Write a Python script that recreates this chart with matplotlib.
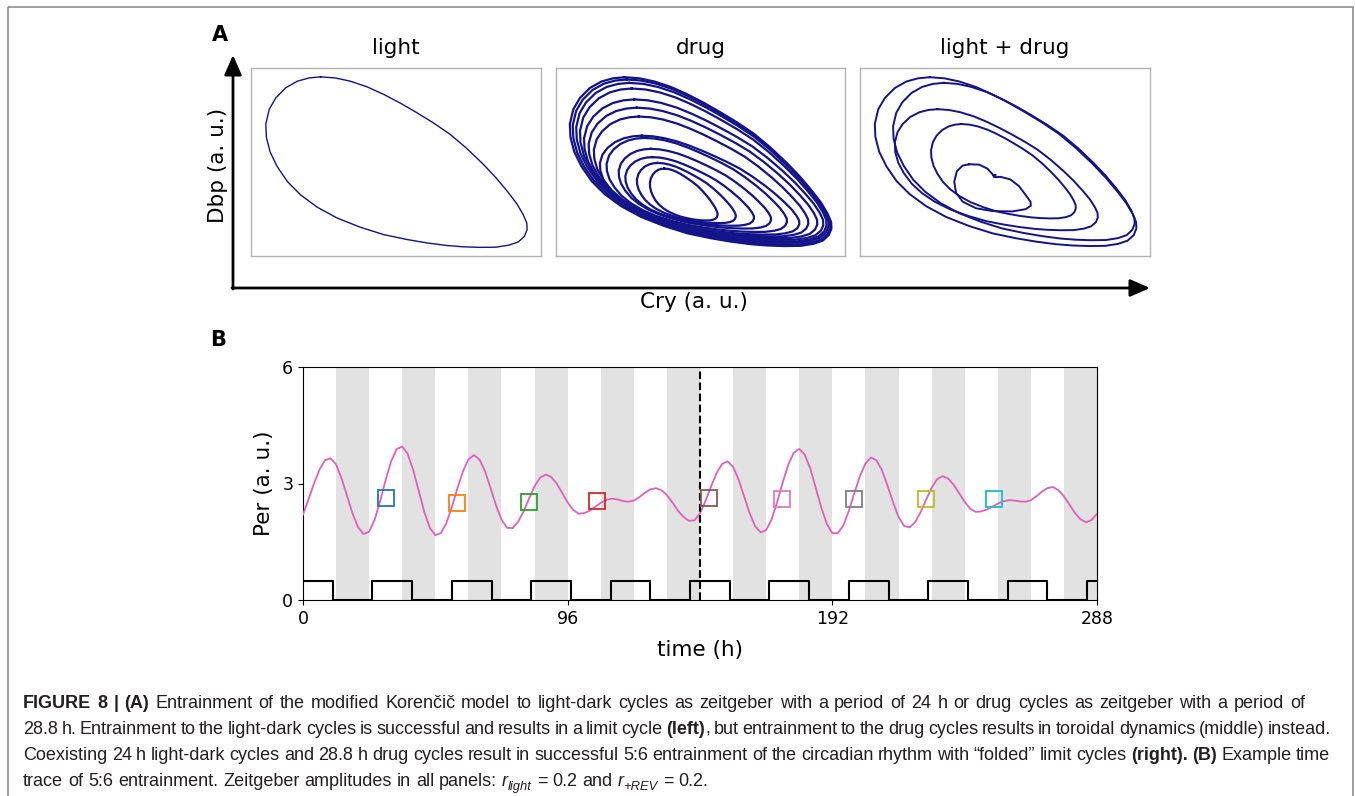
import numpy as np
import matplotlib
matplotlib.use("Agg")
import matplotlib.pyplot as plt
from matplotlib.patches import Rectangle

W, H = 1356, 796

# ---- panel A: phase portraits (Cry vs Dbp, normalised a.u.) ----
# light-entrained limit cycle
light_cry = [0.240, 0.291, 0.342, 0.400, 0.457, 0.514, 0.571, 0.628, 0.685, 0.742,
             0.799, 0.845, 0.885, 0.917, 0.939, 0.951, 0.952, 0.943, 0.922, 0.890,
             0.845, 0.788, 0.731, 0.674, 0.605, 0.537, 0.457, 0.377, 0.297, 0.228,
             0.171, 0.126, 0.091, 0.066, 0.053, 0.051, 0.063, 0.086, 0.120, 0.160,
             0.200, 0.240]
light_dbp = [0.953, 0.947, 0.930, 0.900, 0.860, 0.814, 0.763, 0.709, 0.649, 0.575,
             0.491, 0.416, 0.342, 0.277, 0.219, 0.175, 0.140, 0.105, 0.075, 0.058,
             0.047, 0.046, 0.049, 0.056, 0.070, 0.088, 0.114, 0.153, 0.202, 0.260,
             0.325, 0.395, 0.474, 0.553, 0.632, 0.702, 0.781, 0.842, 0.895, 0.930,
             0.947, 0.953]

# drug only: extents of the nested torus loops (outer -> inner)
drug_left = [0.048, 0.058, 0.070, 0.083, 0.097, 0.113, 0.131, 0.152, 0.175, 0.217, 0.240, 0.280, 0.325]
drug_right = [0.953, 0.949, 0.943, 0.936, 0.925, 0.904, 0.873, 0.842, 0.799, 0.744, 0.685, 0.622, 0.559]
drug_top = [0.951, 0.939, 0.921, 0.891, 0.833, 0.789, 0.742, 0.640, 0.628, 0.570, 0.526, 0.495, 0.465]
drug_bottom = [0.053, 0.061, 0.070, 0.077, 0.086, 0.095, 0.104, 0.114, 0.128, 0.146, 0.161, 0.175, 0.189]

# light + drug: folded cycle, four outer folds + inner fold with a kink
ld_left = [0.051, 0.114, 0.120, 0.245]
ld_right = [0.953, 0.947, 0.820, 0.744]
ld_top = [0.951, 0.921, 0.781, 0.702]
ld_bottom = [0.053, 0.084, 0.137, 0.200]
ld_inner_cry = [0.377, 0.411, 0.439, 0.457, 0.463, 0.468, 0.460, 0.465, 0.485, 0.519,
                0.548, 0.571, 0.588, 0.589, 0.571, 0.525, 0.457, 0.400, 0.354, 0.331,
                0.325, 0.334, 0.354, 0.377]
ld_inner_dbp = [0.488, 0.486, 0.465, 0.435, 0.421, 0.432, 0.428, 0.419, 0.421, 0.407,
                0.372, 0.325, 0.289, 0.267, 0.249, 0.237, 0.239, 0.254, 0.289, 0.337,
                0.395, 0.451, 0.481, 0.488]

# ---- panel B: time trace ----
per_t = np.arange(0, 289, 2)
per_vals = [2.20, 2.59, 3.00, 3.36, 3.60, 3.65, 3.49, 3.13, 2.68, 2.22, 1.87, 1.70,
            1.76, 2.07, 2.55, 3.10, 3.58, 3.89, 3.95, 3.76, 3.34, 2.81, 2.27, 1.86,
            1.67, 1.72, 1.98, 2.40, 2.87, 3.31, 3.62, 3.73, 3.62, 3.32, 2.89, 2.44,
            2.07, 1.86, 1.85, 2.01, 2.28, 2.61, 2.93, 3.15, 3.23, 3.17, 3.00, 2.76,
            2.51, 2.32, 2.22, 2.24, 2.30, 2.40, 2.50, 2.58, 2.61, 2.59, 2.55, 2.53,
            2.56, 2.65, 2.76, 2.85, 2.88, 2.83, 2.70, 2.51, 2.30, 2.14, 2.04, 2.05,
            2.23, 2.55, 2.92, 3.27, 3.50, 3.57, 3.43, 3.10, 2.67, 2.24, 1.90, 1.74,
            1.80, 2.08, 2.52, 3.03, 3.48, 3.79, 3.89, 3.74, 3.39, 2.89, 2.38, 1.96,
            1.72, 1.72, 1.92, 2.30, 2.75, 3.19, 3.51, 3.67, 3.60, 3.34, 2.95, 2.52,
            2.14, 1.91, 1.87, 2.00, 2.26, 2.58, 2.89, 3.11, 3.19, 3.13, 2.97, 2.75,
            2.53, 2.35, 2.27, 2.28, 2.33, 2.40, 2.48, 2.54, 2.57, 2.56, 2.54, 2.53,
            2.57, 2.67, 2.79, 2.88, 2.91, 2.83, 2.67, 2.46, 2.24, 2.08, 2.00, 2.06,
            2.22]
dark_start = [12, 36, 60, 84, 108, 132, 156, 180, 204, 228, 252, 276]
dark_end = [24, 48, 72, 96, 120, 144, 168, 192, 216, 240, 264, 288]
drug_on = [-3.6, 25.2, 54.0, 82.8, 111.6, 140.4, 169.2, 198.0, 226.8, 255.6, 284.4]
drug_off = [10.8, 39.6, 68.4, 97.2, 126.0, 154.8, 183.6, 212.4, 241.2, 270.0, 298.8]
drug_level = 0.5
split_t = 144
sq_t = [30.2, 56.0, 82.0, 106.5, 147.3, 173.8, 200.0, 225.8, 250.5]
sq_per = [2.62, 2.49, 2.52, 2.56, 2.62, 2.61, 2.60, 2.59, 2.61]
sq_colors = ['tab:blue', 'tab:orange', 'tab:green', 'tab:red', 'tab:brown',
             'tab:pink', 'tab:gray', 'tab:olive', 'tab:cyan']

fig = plt.figure(figsize=(W / 100, H / 100), dpi=100)
bg = fig.add_axes([0, 0, 1, 1])
bg.set_xlim(0, W)
bg.set_ylim(H, 0)
bg.axis('off')


def px_axes(l, t, r, b):
    return fig.add_axes([l / W, 1 - b / H, (r - l) / W, (b - t) / H])


def fit_loop(left, right, top, bottom):
    tx, ty = np.array(light_cry), np.array(light_dbp)
    x = left + (tx - tx.min()) / (tx.max() - tx.min()) * (right - left)
    y = bottom + (ty - ty.min()) / (ty.max() - ty.min()) * (top - bottom)
    return x, y


navy = '#13138a'
boxes = [(251, 68, 541, 256), (556, 68, 845, 256), (860, 68, 1150, 256)]
titles = ['light', 'drug', 'light + drug']
axs = []
for (l, t, r, b), ttl in zip(boxes, titles):
    a = px_axes(l, t, r, b)
    a.set_xlim(0, 1)
    a.set_ylim(0, 1)
    a.set_xticks([])
    a.set_yticks([])
    for s in a.spines.values():
        s.set_color('#b4b4b4')
        s.set_linewidth(1.0)
    bg.text((l + r) / 2, 48, ttl, fontsize=15.5, ha='center', va='center')
    axs.append(a)

axs[0].plot(light_cry, light_dbp, color=navy, lw=1.0)
for l, r, t, b in zip(drug_left, drug_right, drug_top, drug_bottom):
    x, y = fit_loop(l, r, t, b)
    axs[1].plot(x, y, color=navy, lw=1.6)
for l, r, t, b in zip(ld_left, ld_right, ld_top, ld_bottom):
    x, y = fit_loop(l, r, t, b)
    axs[2].plot(x, y, color=navy, lw=1.4)
axs[2].plot(ld_inner_cry, ld_inner_dbp, color=navy, lw=1.4)

# axis arrows of panel A
head = dict(arrowstyle='-|>,head_length=0.8,head_width=0.35', lw=2, color='k',
            shrinkA=0, shrinkB=0, mutation_scale=15)
bg.annotate('', xy=(233, 55), xytext=(233, 289), arrowprops=head)
bg.annotate('', xy=(1150, 288), xytext=(232, 288), arrowprops=head)
bg.text(220, 35, 'A', fontsize=15, weight='bold', ha='center', va='center')
bg.text(218, 165, 'Dbp (a. u.)', fontsize=15.5, rotation=90, ha='center', va='center')
bg.text(694, 302, 'Cry (a. u.)', fontsize=15.5, ha='center', va='center')
bg.text(218, 340, 'B', fontsize=15, weight='bold', ha='center', va='center')

# ---- panel B ----
axb = px_axes(303, 367, 1097, 600)
for s, e in zip(dark_start, dark_end):
    axb.axvspan(s, e, color='#e2e2e2', lw=0, zorder=0)
axb.plot(per_t, per_vals, color='#e060bd', lw=1.3, zorder=3)
axb.axvline(split_t, color='k', ls='--', lw=1.5, zorder=4)
step_x, step_y = [], []
for on, off in zip(drug_on, drug_off):
    step_x += [on, on, off, off]
    step_y += [0, drug_level, drug_level, 0]
axb.plot(step_x, step_y, color='k', lw=1.5, zorder=5)
for t, p, c in zip(sq_t, sq_per, sq_colors):
    axb.plot(t, p, marker='s', ms=11.5, mfc='none', mec=c, mew=1.3, zorder=6)
axb.set_xlim(0, 288)
axb.set_ylim(0, 6)
axb.set_xticks([0, 96, 192, 288])
axb.set_yticks([0, 3, 6])
axb.tick_params(labelsize=12.5)
axb.set_xlabel('time (h)', fontsize=15.5, labelpad=9)
axb.set_ylabel('Per (a. u.)', fontsize=15.5, labelpad=6)

# ---- caption ----
bg.add_patch(Rectangle((8, 7), 1345, 830, fill=False, ec='#8f8f8f', lw=1.2, clip_on=False))
cap_size = 13.0
renderer = fig.canvas.get_renderer()


def style(kind):
    d = dict(family=['Liberation Sans', 'DejaVu Sans'], fontsize=cap_size, color='#231f20')
    if kind == 'b':
        d['weight'] = 'bold'
    if kind in ('i', 'sub'):
        d['style'] = 'italic'
    if kind == 'sub':
        d['fontsize'] = cap_size * 0.72
    return d


def measure(s, kind):
    t = bg.text(0, 0, s, **style(kind))
    w = t.get_window_extent(renderer).width
    t.remove()
    return w


space_w = measure('a a', 'n') - measure('aa', 'n')


def caption_line(segs, y, x0=23, x1=None):
    tokens = []
    pending = False
    for text, kind in segs:
        for k, p in enumerate(text.split(' ')):
            if k > 0:
                pending = True
            if p:
                tokens.append((p, kind, pending))
                pending = False
    widths = [measure(p, k) for p, k, _ in tokens]
    gaps = sum(1 for _, _, g in tokens if g)
    extra = 0
    if x1 is not None and gaps:
        extra = (x1 - x0 - sum(widths) - gaps * space_w) / gaps
    x = x0
    for (p, kind, gap), w in zip(tokens, widths):
        if gap:
            x += space_w + extra
        bg.text(x, y + (4 if kind == 'sub' else 0), p, va='baseline', ha='left', **style(kind))
        x += w


caption_line([('FIGURE 8 | (A)', 'b'),
              (' Entrainment of the modified Korenčič model to light-dark cycles as zeitgeber '
               'with a period of 24 h or drug cycles as zeitgeber with a period of', 'n')],
             708, x1=1305)
caption_line([('28.8 h. Entrainment to the light-dark cycles is successful and results in a limit cycle ', 'n'),
              ('(left)', 'b'),
              (', but entrainment to the drug cycles results in toroidal dynamics (middle) instead.', 'n')],
             734, x1=1331)
caption_line([('Coexisting 24 h light-dark cycles and 28.8 h drug cycles result in successful 5:6 '
               'entrainment of the circadian rhythm with \u201cfolded\u201d limit cycles ', 'n'),
              ('(right). (B)', 'b'), (' Example time', 'n')],
             760, x1=1330)
caption_line([('trace of 5:6 entrainment. Zeitgeber amplitudes in all panels: ', 'n'),
              ('r', 'i'), ('light', 'sub'), (' = 0.2 and ', 'n'),
              ('r', 'i'), ('+REV', 'sub'), (' = 0.2.', 'n')],
             786)

fig.savefig('out.png', dpi=100)
